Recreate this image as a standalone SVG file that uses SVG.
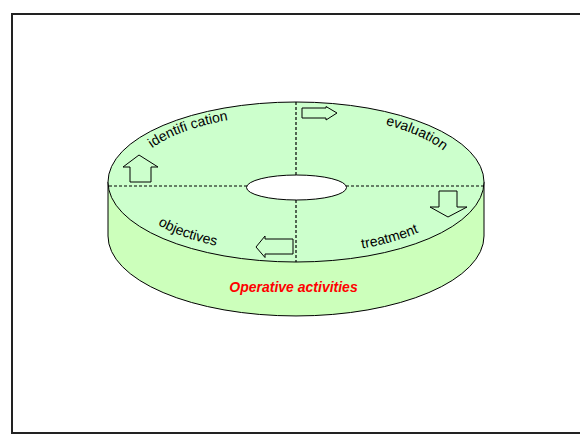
<svg xmlns="http://www.w3.org/2000/svg" width="580" height="435" viewBox="0 0 580 435">
  <defs>
    <style>
      .outline { stroke: #000; stroke-width: 1; }
      .top { fill: #CCFFCC; }
      .side { fill: #CCFFBB; }
      .dash { stroke: #000; stroke-width: 1.2; stroke-dasharray: 3 2; fill: none; }
      .arrow { fill: #CCFFCC; stroke: #000; stroke-width: 1; }
      .lbl { font-family: "Liberation Sans", Arial, sans-serif; font-size: 14px; fill: #000; }
      .op { font-family: "Liberation Sans", Arial, sans-serif; font-size: 14px; font-weight: bold; font-style: italic; fill: #FF0000; }
    </style>
    <path id="upperArc" d="M 130 182 A 166 68 0 0 1 462 182" />
    <path id="lowerArc" d="M 124 182 A 172 72 0 0 0 468 182" />
  </defs>

  <rect x="12" y="14" width="572" height="419" fill="#FFFFFF" stroke="#222" stroke-width="2" />

  <g id="disc">
    <path class="side outline" d="M 108 182 L 108 236 A 188 80 0 0 0 484 236 L 484 182 Z" />
    <ellipse class="top outline" cx="296" cy="182" rx="188" ry="80" />
    <ellipse cx="296.5" cy="187.5" rx="50" ry="12.5" fill="#FFFFFF" class="outline" />
  </g>

  <g id="connectors">
    <line class="dash" x1="109" y1="186" x2="247" y2="186" />
    <line class="dash" x1="346" y1="186" x2="484" y2="186" />
    <line class="dash" x1="296" y1="102" x2="296" y2="175" />
    <line class="dash" x1="296" y1="200" x2="296" y2="262" />
  </g>

  <g id="arrow-up">
    <polygon class="arrow" points="130,182 151,182 151,167 158,167 139,155 123,167 130,167" />
  </g>
  <g id="arrow-right">
    <polygon class="arrow" points="302,108 326,108 326,106.5 337,113 326,120 326,118 302,118" />
  </g>
  <g id="arrow-down">
    <polygon class="arrow" points="439,191 457,191 457,207 467,207 448,217 430,207 439,207" />
  </g>
  <g id="arrow-left">
    <polygon class="arrow" points="293,239 265,239 265,236 256,247 265,257.5 265,254 293,254" />
  </g>

  <g id="identification">
    <text class="lbl"><textPath href="#upperArc" startOffset="42">identifi cation</textPath></text>
  </g>
  <g id="evaluation">
    <text class="lbl"><textPath href="#upperArc" startOffset="282">evaluation</textPath></text>
  </g>
  <g id="objectives">
    <text class="lbl"><textPath href="#lowerArc" startOffset="57">objectives</textPath></text>
  </g>
  <g id="treatment">
    <text class="lbl"><textPath href="#lowerArc" startOffset="266">treatment</textPath></text>
  </g>
  <g id="operative">
    <text class="op" x="293.5" y="292" text-anchor="middle">Operative activities</text>
  </g>
</svg>
